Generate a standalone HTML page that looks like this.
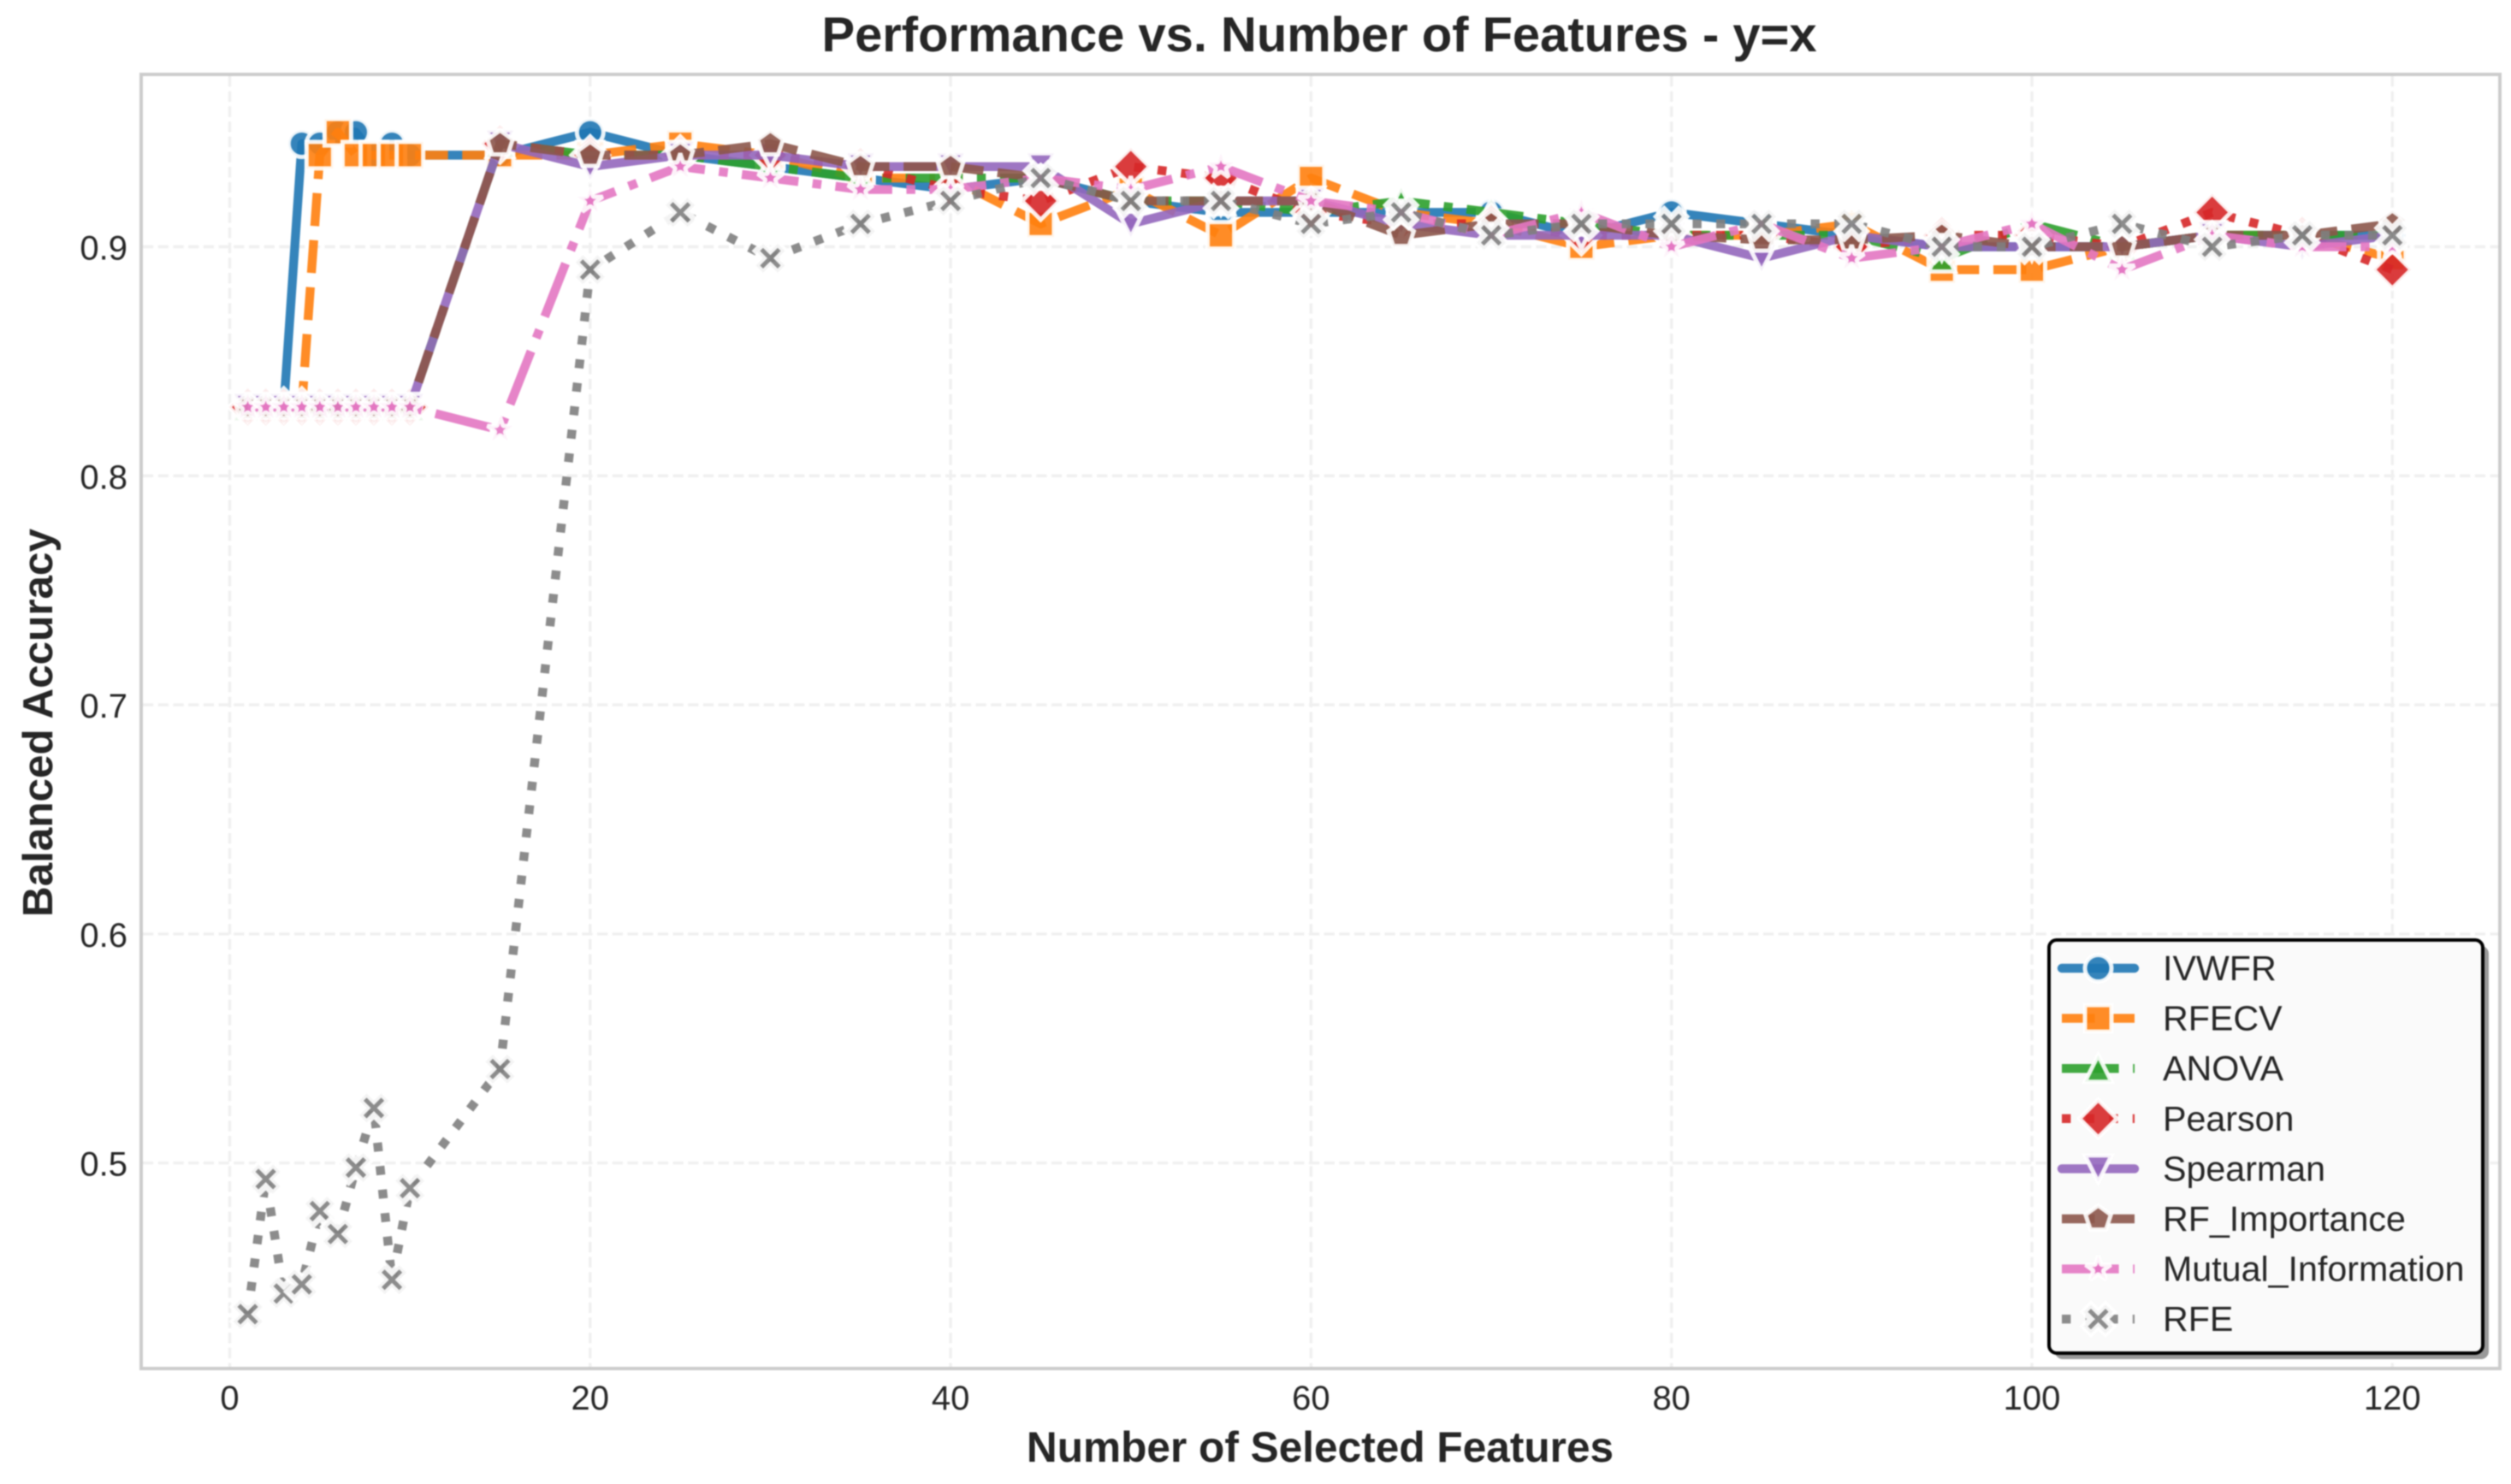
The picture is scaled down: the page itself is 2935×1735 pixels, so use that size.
<!DOCTYPE html>
<html lang="en">
<head>
<meta charset="utf-8">
<title>Performance vs. Number of Features - y=x</title>
<style>
  html, body { margin: 0; padding: 0; background: #ffffff; }
  svg { display: block; filter: blur(0.8px); }
  text { font-family: "Liberation Sans", sans-serif; fill: #262626; }
</style>
</head>
<body>
<svg id="chart" xmlns="http://www.w3.org/2000/svg" width="2935" height="1735" viewBox="0 0 2935 1735">
  <rect x="0" y="0" width="2935" height="1735" fill="#ffffff"></rect>
  <text x="1542" y="60" font-size="57.9" font-weight="700" text-anchor="middle">Performance vs. Number of Features - y=x</text>
  <text x="1543" y="1709" font-size="49.6" font-weight="700" text-anchor="middle">Number of Selected Features</text>
  <text x="0" y="0" transform="translate(61 845) rotate(-90)" font-size="49.4" font-weight="700" text-anchor="middle">Balanced Accuracy</text>
  <g id="grid"></g>
  <g id="ticks"></g>
  <rect x="165" y="87" width="2757" height="1513" fill="none" stroke="#cccccc" stroke-width="4"></rect>
  <g id="series"></g>
  <g id="legend">
    <rect x="2402" y="1106" width="507" height="483" rx="9" ry="9" fill="#999999"></rect>
    <rect x="2395" y="1099" width="507" height="483" rx="9" ry="9" fill="#fafafa" stroke="#000000" stroke-width="4"></rect>
  </g>
</svg>
<script>
const featureCounts = [1,2,3,4,5,6,7,8,9,10,15,20,25,30,35,40,45,50,55,60,65,70,75,80,85,90,95,100,105,110,115,120];
const ivwfrValues = [0.83,0.83,0.83,0.945,0.945,0.95,0.95,0.94,0.945,0.94,0.94,0.95,0.94,0.935,0.93,0.925,0.93,0.92,0.915,0.915,0.915,0.915,0.905,0.915,0.91,0.905,0.9,0.9,0.9,0.905,0.905,0.905];
const rfecvValues = [0.83,0.83,0.83,0.83,0.94,0.95,0.94,0.94,0.94,0.94,0.94,0.94,0.945,0.94,0.93,0.93,0.91,0.925,0.905,0.93,0.915,0.91,0.9,0.905,0.905,0.91,0.89,0.89,0.9,0.905,0.905,0.895];
const anovaValues = [0.83,0.83,0.83,0.83,0.83,0.83,0.83,0.83,0.83,0.83,0.945,0.94,0.94,0.935,0.93,0.93,0.93,0.92,0.92,0.915,0.92,0.915,0.91,0.905,0.905,0.905,0.895,0.91,0.9,0.905,0.905,0.905];
const pearsonValues = [0.83,0.83,0.83,0.83,0.83,0.83,0.83,0.83,0.83,0.83,0.945,0.94,0.94,0.94,0.935,0.925,0.92,0.935,0.93,0.915,0.91,0.91,0.905,0.905,0.905,0.9,0.905,0.905,0.9,0.915,0.905,0.89];
const spearmanValues = [0.83,0.83,0.83,0.83,0.83,0.83,0.83,0.83,0.83,0.83,0.945,0.935,0.94,0.94,0.935,0.935,0.935,0.91,0.92,0.92,0.91,0.905,0.905,0.905,0.895,0.905,0.9,0.9,0.9,0.905,0.9,0.905];
const rfImportanceValues = [0.83,0.83,0.83,0.83,0.83,0.83,0.83,0.83,0.83,0.83,0.945,0.94,0.94,0.945,0.935,0.935,0.93,0.92,0.92,0.92,0.905,0.91,0.91,0.905,0.903,0.903,0.905,0.9,0.9,0.905,0.905,0.91];
const mutualInfoValues = [0.83,0.83,0.83,0.83,0.83,0.83,0.83,0.83,0.83,0.83,0.82,0.92,0.935,0.93,0.925,0.925,0.93,0.925,0.935,0.92,0.915,0.905,0.915,0.9,0.91,0.895,0.9,0.91,0.89,0.905,0.9,0.9];
const rfeValues = [0.434,0.493,0.443,0.447,0.479,0.469,0.498,0.524,0.449,0.489,0.541,0.89,0.915,0.895,0.91,0.92,0.93,0.92,0.92,0.91,0.915,0.905,0.91,0.91,0.91,0.91,0.9,0.9,0.91,0.9,0.905,0.905];
const seriesNames = ["IVWFR","RFECV","ANOVA","Pearson","Spearman","RF_Importance","Mutual_Information","RFE"];
const xTickValues = [0,20,40,60,80,100,120];
const yTickValues = [0.5,0.6,0.7,0.8,0.9];

const seriesValues = [ivwfrValues, rfecvValues, anovaValues, pearsonValues, spearmanValues, rfImportanceValues, mutualInfoValues, rfeValues];
const seriesColors = ["#1f77b4","#ff7f0e","#2ca02c","#d62728","#9467bd","#8c564b","#e377c2","#7f7f7f"];
const seriesDashes = ["none","38.5 16.6","66.6 16.6 10.4 16.6","10.4 17.2","none","38.5 16.6","66.6 16.6 10.4 16.6","10.4 17.2"];
const seriesMarkers = ["circle","square","triangle-up","diamond","triangle-down","pentagon","star","x-filled"];

const SVG_NS = "http://www.w3.org/2000/svg";
const MARKER_SIZE = 31;
const MARKER_EDGE = 5;
const X_MARKER_SIZE = 34;
const X_MARKER_EDGE = 7;
const LINE_WIDTH = 10.4;
const OPACITY = 0.9;

function xScale(v) { return 268.5 + 21.065 * v; }
function yScale(v) { return 288.5 + (0.9 - v) * 2678; }

function svgEl(tag, attrs) {
  const el = document.createElementNS(SVG_NS, tag);
  for (const key in attrs) { el.setAttribute(key, attrs[key]); }
  return el;
}

function kebab(name) { return name.toLowerCase().replace(/_/g, "-"); }

function polyPoints(kind) {
  const h = MARKER_SIZE / 2;
  if (kind === "square") return [[-h,-h],[h,-h],[h,h],[-h,h]];
  if (kind === "triangle-up") return [[0,-h],[h,h],[-h,h]];
  if (kind === "triangle-down") return [[0,h],[h,-h],[-h,-h]];
  if (kind === "diamond") { const d = h * Math.SQRT2; return [[0,-d],[d,0],[0,d],[-d,0]]; }
  if (kind === "pentagon") {
    const out = [];
    for (let i = 0; i < 5; i++) { const a = -Math.PI / 2 + i * 2 * Math.PI / 5; out.push([h * Math.cos(a), h * Math.sin(a)]); }
    return out;
  }
  if (kind === "star") {
    const out = [];
    for (let i = 0; i < 10; i++) {
      const a = -Math.PI / 2 + i * Math.PI / 5;
      const r = i % 2 === 0 ? h : h * 0.381966;
      out.push([r * Math.cos(a), r * Math.sin(a)]);
    }
    return out;
  }
  if (kind === "x-filled") {
    const u = X_MARKER_SIZE / 4;
    return [[-1,-2],[0,-1],[1,-2],[2,-1],[1,0],[2,1],[1,2],[0,1],[-1,2],[-2,1],[-1,0],[-2,-1]].map(p => [p[0] * u, p[1] * u]);
  }
  return [];
}

function makeMarker(kind, color, cx, cy) {
  const style = {
    fill: color,
    "fill-opacity": OPACITY,
    stroke: "#ffffff",
    "stroke-opacity": OPACITY,
    "stroke-width": kind === "x-filled" ? X_MARKER_EDGE : MARKER_EDGE,
    "stroke-linejoin": kind === "star" ? "bevel" : "miter",
    "stroke-miterlimit": 10
  };
  let el;
  if (kind === "circle") {
    el = svgEl("circle", Object.assign({ cx: cx, cy: cy, r: MARKER_SIZE / 2 }, style));
  } else {
    const pts = polyPoints(kind).map(p => (cx + p[0]).toFixed(2) + "," + (cy + p[1]).toFixed(2)).join(" ");
    el = svgEl("polygon", Object.assign({ points: pts }, style));
  }
  return el;
}

function makeLine(d, color, dash, isSolid) {
  const attrs = {
    d: d,
    fill: "none",
    stroke: color,
    "stroke-opacity": OPACITY,
    "stroke-width": LINE_WIDTH,
    "stroke-linejoin": "round",
    "stroke-linecap": isSolid ? "round" : "butt"
  };
  if (!isSolid) { attrs["stroke-dasharray"] = dash; }
  return svgEl("path", attrs);
}

const gridLayer = document.getElementById("grid");
const tickLayer = document.getElementById("ticks");
const seriesLayer = document.getElementById("series");
const legendLayer = document.getElementById("legend");

yTickValues.forEach(function (v) {
  const y = yScale(v);
  const line = svgEl("line", { x1: 167, x2: 2920, y1: y, y2: y, stroke: "#f0f0f0", "stroke-width": 3.4, "stroke-dasharray": "12.3 5.4" });
  
  
  gridLayer.appendChild(line);
  const label = svgEl("text", { x: 149, y: y + 15, "font-size": 40, "text-anchor": "end" });
  
  
  label.textContent = v.toFixed(1);
  tickLayer.appendChild(label);
});

xTickValues.forEach(function (v) {
  const x = xScale(v);
  const line = svgEl("line", { x1: x, x2: x, y1: 89, y2: 1598, stroke: "#f0f0f0", "stroke-width": 3.4, "stroke-dasharray": "12.3 5.4" });
  
  
  gridLayer.appendChild(line);
  const label = svgEl("text", { x: x, y: 1648, "font-size": 40, "text-anchor": "middle" });
  
  
  label.textContent = String(v);
  tickLayer.appendChild(label);
});

seriesNames.forEach(function (name, s) {
  const values = seriesValues[s];
  const color = seriesColors[s];
  const kind = seriesMarkers[s];
  const isSolid = seriesDashes[s] === "none";
  const group = svgEl("g", {});
  
  
  const d = values.map(function (v, i) {
    return (i === 0 ? "M" : "L") + xScale(featureCounts[i]).toFixed(2) + " " + yScale(v).toFixed(2);
  }).join(" ");
  const line = makeLine(d, color, seriesDashes[s], isSolid);
  
  
  group.appendChild(line);
  values.forEach(function (v, i) {
    const marker = makeMarker(kind, color, xScale(featureCounts[i]), yScale(v));
    
    
    group.appendChild(marker);
  });
  seriesLayer.appendChild(group);
});

seriesNames.forEach(function (name, s) {
  const rowY = 1132 + s * 58.6;
  const color = seriesColors[s];
  const isSolid = seriesDashes[s] === "none";
  const entry = svgEl("g", {});
  
  
  const handle = makeLine("M2410 " + rowY + " L2495 " + rowY, color, seriesDashes[s], isSolid);
  
  
  entry.appendChild(handle);
  const marker = makeMarker(seriesMarkers[s], color, 2452.5, rowY);
  
  
  entry.appendChild(marker);
  const label = svgEl("text", { x: 2528, y: rowY + 14, "font-size": 41.2 });
  
  
  label.textContent = name;
  entry.appendChild(label);
  legendLayer.appendChild(entry);
});
</script>
</body>
</html>
